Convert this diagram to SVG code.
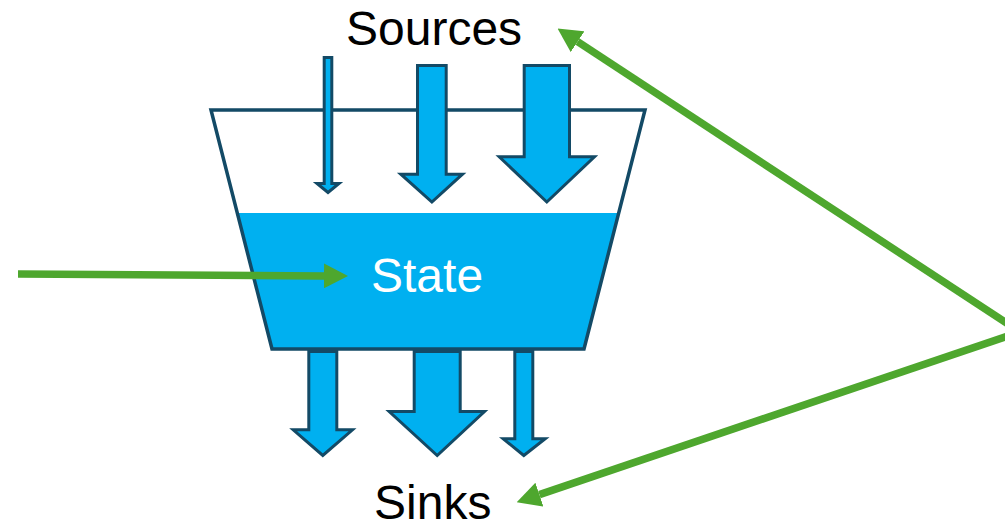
<svg xmlns="http://www.w3.org/2000/svg" width="1005" height="522" viewBox="0 0 1005 522">
  <style>
    .flow { fill: #00B0F0; stroke: #134A66; stroke-width: 3; stroke-linejoin: miter; }
    .outline { fill: none; stroke: #134A66; stroke-width: 3.5; stroke-linejoin: miter; }
    .lbl { font-family: "Liberation Sans", Arial, sans-serif; font-size: 48px; }
    .conn { stroke: #4EA72E; stroke-width: 7.5; fill: none; }
  </style>
  <defs>
    <marker id="gh" viewBox="0 0 24 25" refX="0" refY="12.5" markerWidth="24" markerHeight="25" markerUnits="userSpaceOnUse" orient="auto">
      <path d="M0,0 L24,12.5 L0,25 z" fill="#4EA72E"/>
    </marker>
  </defs>
  <rect width="1005" height="522" fill="#FFFFFF"/>

  <g id="tank">
    <polygon points="237.3,213 618.7,213 584,349 272,349" fill="#00B0F0"/>
    <polygon class="outline" points="211,110 645,110 584,349 272,349"/>
    <text class="lbl" x="371" y="292" fill="#FFFFFF">State</text>
  </g>

  <g id="sources">
    <polygon class="flow" points="324.2,57.5 331.8,57.5 331.8,183.5 339,183.5 328,192.5 317,183.5 324.2,183.5"/>
    <polygon class="flow" points="417.5,65.5 446.2,65.5 446.2,174.2 462.5,174.2 431.9,202 400.8,174.2 417.5,174.2"/>
    <polygon class="flow" points="524.2,65.5 569.5,65.5 569.5,156.8 594.5,156.8 546.8,202 499.2,156.8 524.2,156.8"/>
    <text class="lbl" x="346" y="45" fill="#000000">Sources</text>
  </g>

  <g id="sinks">
    <polygon class="flow" points="308.8,351.5 336.8,351.5 336.8,429.8 352.5,429.8 322.8,455.5 293.2,429.8 308.8,429.8"/>
    <polygon class="flow" points="414.2,351.5 460.2,351.5 460.2,411.5 484.5,411.5 437.2,455.5 389.2,411.5 414.2,411.5"/>
    <polygon class="flow" points="514.8,351.5 532.8,351.5 532.8,438.8 545.2,438.8 523.8,455.5 503.2,438.8 514.8,438.8"/>
    <text class="lbl" x="374" y="519" fill="#000000">Sinks</text>
  </g>

  <g id="connectors">
    <line class="conn" x1="18" y1="274" x2="324" y2="275.9" marker-end="url(#gh)"/>
    <line class="conn" x1="1010" y1="325.3" x2="577.6" y2="41.7" marker-end="url(#gh)"/>
    <line class="conn" x1="1010" y1="335.3" x2="539.4" y2="494.6" marker-end="url(#gh)"/>
  </g>
</svg>
